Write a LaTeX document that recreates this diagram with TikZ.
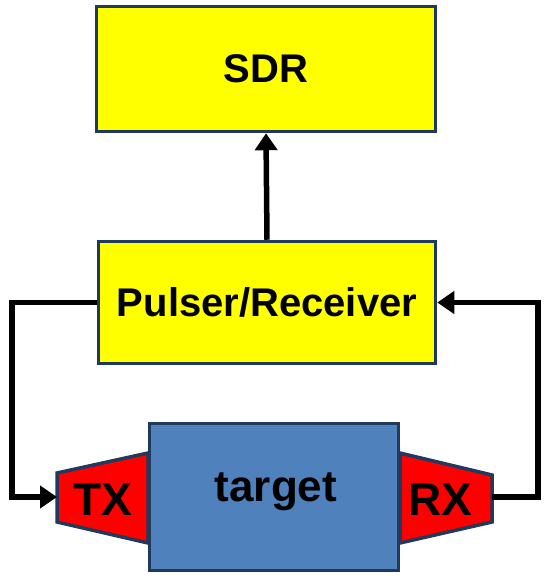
\documentclass[tikz,border=0pt]{standalone}
\usepackage{fontspec}
\setmainfont{Liberation Sans}
\usepackage{tikz}
\usetikzlibrary{positioning, arrows.meta}
\definecolor{boxline}{HTML}{1F3A5C}
\definecolor{boxyellow}{HTML}{FFFF00}
\definecolor{targetblue}{HTML}{4F81BD}
\definecolor{xdcred}{HTML}{FF0000}
\newcommand{\lbl}[1]{\fontsize{#1}{#1}\selectfont\bfseries}

\begin{document}
\begin{tikzpicture}[x=1pt, y=-1pt,
    block/.style={rectangle, draw=boxline, line width=3.5pt, fill=boxyellow, inner sep=0pt},
    xdc/.style={draw=boxline, line width=3.5pt, fill=xdcred, line join=miter},
    link/.style={line width=5.5pt, line join=miter, -{Triangle[length=17pt,width=22pt]}}]
    \useasboundingbox (0,0) rectangle (550,584);
    \node (sdr)    at (266,69)    [block, minimum width=339pt, minimum height=125pt] {\lbl{40}SDR};
    \node (pulser) at (267,302.5) [block, minimum width=337pt, minimum height=122pt] {\lbl{40}Pulser/Receiver};
    % transducers either side of the target
    \draw[xdc] (57,473) -- (148,453) -- (148,543) -- (57,522) -- cycle;
    \draw[xdc] (400,453) -- (492,475) -- (492,522) -- (400,543) -- cycle;
    \node (target) at (274,497) [rectangle, draw=boxline, line width=3.5pt, fill=targetblue,
        minimum width=249pt, minimum height=147pt, inner sep=0pt] {};
    \node (targetlbl) at (276,492) {\lbl{44}target};
    \node (tx) at (103,500) {\lbl{46}TX};
    \node (rx) at (440,500) {\lbl{46}RX};
    \coordinate (txin)  at (57,497);
    \coordinate (rxout) at (492,497);
    \coordinate (lft)   at (12,400);
    \coordinate (rgt)   at (538,400);
    \draw[link] (pulser.north) -- (sdr.south);
    \draw[link] (pulser.west) -| (lft) |- (txin);
    \draw[link] (rxout) -| (rgt) |- (pulser.east);
\end{tikzpicture}
\end{document}
